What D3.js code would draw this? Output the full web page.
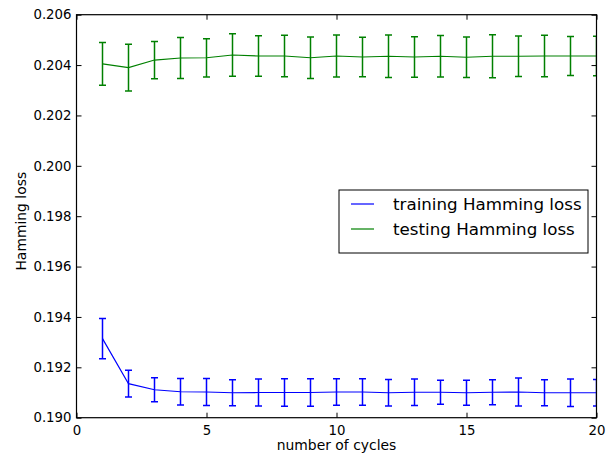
<!DOCTYPE html>
<html>
<head>
<meta charset="utf-8">
<script src="https://cdn.jsdelivr.net/npm/d3@7"></script>
<style>
  body { margin: 0; background: #fff; }
  svg { display: block; font-family: "DejaVu Sans", sans-serif; }
</style>
</head>
<body>
<script>

const cycles = d3.range(1, 21)

const trainMean = [0.19314, 0.19135, 0.19111, 0.19103, 0.19102, 0.19099, 0.19100, 0.19100, 0.19100, 0.19102,
                   0.19102, 0.19099, 0.19101, 0.19101, 0.19099, 0.19101, 0.19102, 0.19099, 0.19099, 0.19099]
const trainErr  = [0.00080, 0.00053, 0.00048, 0.00053, 0.00054, 0.00052, 0.00054, 0.00055, 0.00055, 0.00053,
                   0.00053, 0.00053, 0.00053, 0.00048, 0.00050, 0.00050, 0.00056, 0.00052, 0.00055, 0.00053]

const testMean  = [0.20405, 0.20390, 0.20420, 0.20428, 0.20429, 0.20440, 0.20436, 0.20436, 0.20429, 0.20436,
                   0.20432, 0.20435, 0.20432, 0.20435, 0.20431, 0.20435, 0.20435, 0.20436, 0.20436, 0.20436]
const testErr   = [0.00085, 0.00093, 0.00074, 0.00081, 0.00076, 0.00084, 0.00080, 0.00082, 0.00082, 0.00083,
                   0.00078, 0.00084, 0.00080, 0.00082, 0.00080, 0.00085, 0.00080, 0.00082, 0.00077, 0.00078]

const xTicks = [0, 5, 10, 15, 20]
const yTicks = [0.190, 0.192, 0.194, 0.196, 0.198, 0.200, 0.202, 0.204, 0.206]

const seriesNames = ["training Hamming loss", "testing Hamming loss"]
const seriesColors = ["#0000ff", "#008000"]

window.onload = function () {

    const width = 613, height = 455
    const plot = {left: 76.5, right: 596.5, top: 14.7, bottom: 417.7}

    const svg = d3.select('body').append('svg')
        .attr('width', width)
        .attr('height', height)

    const x = d3.scaleLinear().domain([0, 20]).range([plot.left, plot.right])
    const y = d3.scaleLinear().domain([0.190, 0.206]).range([plot.bottom, plot.top])

    svg.append('clipPath').attr('id', 'clip')
        .append('rect')
        .attr('x', plot.left).attr('y', plot.top)
        .attr('width', plot.right - plot.left)
        .attr('height', plot.bottom - plot.top)

    const gData = svg.append('g').attr('clip-path', 'url(#clip)')

    function drawSeries(means, errs, color){
        const data = cycles.map((c, i) => ({c: c, m: means[i], e: errs[i]}))
        const g = gData.append('g')
            .attr('stroke', color)
            .attr('stroke-width', 1.2)
            .attr('fill', 'none')

        g.append('path')
            .datum(data)
            .attr('d', d3.line().x(d => x(d.c)).y(d => y(d.m)))

        const bars = g.selectAll('g.bar')
            .data(data)
            .join('g')
            .attr('class', 'bar')

        bars.append('line')
            .attr('x1', d => x(d.c)).attr('x2', d => x(d.c))
            .attr('y1', d => y(d.m - d.e)).attr('y2', d => y(d.m + d.e))
            .attr('stroke-width', 1.5)
        bars.append('line')
            .attr('x1', d => x(d.c) - 3.5).attr('x2', d => x(d.c) + 3.5)
            .attr('y1', d => y(d.m + d.e)).attr('y2', d => y(d.m + d.e))
            .attr('stroke-width', 1.5)
        bars.append('line')
            .attr('x1', d => x(d.c) - 3.5).attr('x2', d => x(d.c) + 3.5)
            .attr('y1', d => y(d.m - d.e)).attr('y2', d => y(d.m - d.e))
            .attr('stroke-width', 1.5)
    }

    drawSeries(trainMean, trainErr, seriesColors[0])
    drawSeries(testMean, testErr, seriesColors[1])

    // axes, ticks pointing inward like classic matplotlib
    const fontSize = '13.3px'

    const xAxis = svg.append('g')
        .attr('transform', getTranslateString(0, plot.bottom))
        .call(d3.axisBottom(x).tickValues(xTicks).tickSize(-5).tickPadding(8).tickFormat(d3.format('d')))
    const xTop = svg.append('g')
        .attr('transform', getTranslateString(0, plot.top))
        .call(d3.axisTop(x).tickValues(xTicks).tickSize(-5).tickFormat(''))
    const yAxis = svg.append('g')
        .attr('transform', getTranslateString(plot.left, 0))
        .call(d3.axisLeft(y).tickValues(yTicks).tickSize(-5).tickPadding(5).tickFormat(d3.format('.3f')))
    const yRight = svg.append('g')
        .attr('transform', getTranslateString(plot.right, 0))
        .call(d3.axisRight(y).tickValues(yTicks).tickSize(-5).tickFormat(''))

    for (const a of [xAxis, xTop, yAxis, yRight]) {
        a.select('.domain').remove()
        a.selectAll('line').attr('stroke', '#000').attr('stroke-width', 1)
        a.selectAll('text')
            .attr('fill', '#000')
            .style('font-family', '"DejaVu Sans", sans-serif')
            .style('font-size', fontSize)
    }

    svg.append('rect')
        .attr('x', plot.left).attr('y', plot.top)
        .attr('width', plot.right - plot.left)
        .attr('height', plot.bottom - plot.top)
        .attr('fill', 'none')
        .attr('stroke', '#000')
        .attr('stroke-width', 1.2)

    svg.append('text')
        .attr('x', (plot.left + plot.right) / 2)
        .attr('y', 450)
        .attr('text-anchor', 'middle')
        .style('font-size', '13.9px')
        .text('number of cycles')

    svg.append('text')
        .attr('transform', getTranslateString(25.5, (plot.top + plot.bottom) / 2 + 5) + ' rotate(-90)')
        .attr('text-anchor', 'middle')
        .style('font-size', '13.9px')
        .text('Hamming loss')

    // legend
    const legend = svg.append('g').attr('transform', getTranslateString(339, 190))
    legend.append('rect')
        .attr('width', 249).attr('height', 63)
        .attr('fill', '#fff')
        .attr('stroke', '#000')
        .attr('stroke-width', 1)

    const rows = legend.selectAll('g.row')
        .data(seriesNames)
        .join('g')
        .attr('class', 'row')
        .attr('transform', (d, i) => getTranslateString(0, 14 + i * 25))

    rows.append('line')
        .attr('x1', 12).attr('x2', 35)
        .attr('stroke', (d, i) => seriesColors[i])
        .attr('stroke-width', 1.2)
    rows.append('text')
        .attr('x', 54)
        .attr('dy', '0.35em')
        .style('font-size', '16.7px')
        .text(d => d)
}

function getTranslateString(x, y){
    return 'translate(' + x + ',' + y + ')'
}
</script>
</body>
</html>
